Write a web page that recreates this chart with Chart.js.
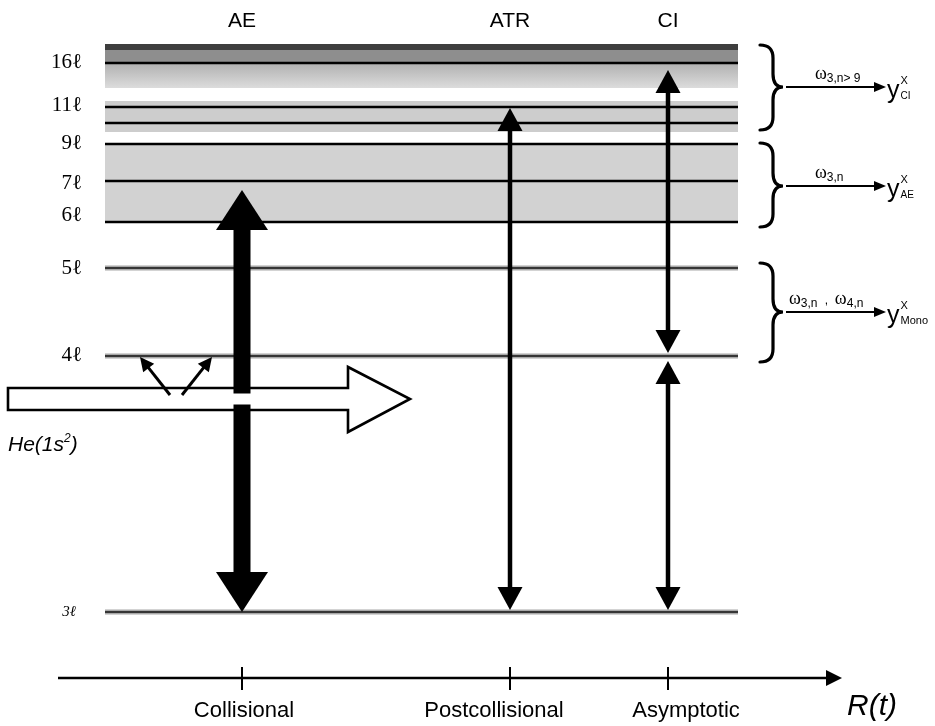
<!DOCTYPE html>
<html>
<head>
<meta charset="utf-8">
<script src="https://cdn.jsdelivr.net/npm/chart.js@4.4.1/dist/chart.umd.min.js"></script>
<style>
  html, body { margin: 0; padding: 0; background: #fff; }
  canvas { display: block; }
</style>
</head>
<body>
<canvas id="chart" width="935" height="726"></canvas>
<script>
// diagram units: x runs along R(t), y is the level axis (small = high level)
const stages = ['Collisional', 'Postcollisional', 'Asymptotic'];
const stageTags = ['AE', 'ATR', 'CI'];
const stageX = [242, 510, 668];

const levelLabels = ['3ℓ', '4ℓ', '5ℓ', '6ℓ', '7ℓ', '9ℓ', '11ℓ', '16ℓ'];
const levelLabelY = [612, 355, 268, 215, 183, 143, 105, 62];
const isolatedLevels = [612, 356, 268];          // 3ℓ, 4ℓ, 5ℓ
const groupLevels = [222, 181, 144, 123, 107, 63]; // lines inside the shaded groups
const levelSpan = [105, 738];

const bandTop = [44, 50, 63, 101, 144];
const bandBottom = [50, 63, 88, 132, 222];

// vertical transitions [tip at 3ℓ side, tip at upper side]
const aeArrow = [612, 190];
const atrArrow = [610, 108];
const ciUpper = [353, 70];
const ciLower = [610, 361];

// incoming He beam
const heBeam = [8, 410];
const heLevel = [399];
const emitTail = [170, 182];
const emitTip = [140, 212];
const emitY = [395, 357];

// exit channels on the right
const channels = ['CI', 'AE', 'Mono'];
const channelRates = [['3,n> 9'], ['3,n'], ['3,n', '4,n']];
const channelY = [87, 186, 312];
const braceTop = [45, 143, 263];
const braceBottom = [130, 227, 362];

const rAxis = [58, 842];
const rAxisLevel = [678];

const serif = "'Liberation Serif', 'DejaVu Serif', serif";
const sans = "'Liberation Sans', Arial, sans-serif";
const bandColors = ['#3e3e3e', '#8e8e8e', 'grad', '#cdcdcd', '#d2d2d2'];

const px = (c, v) => c.scales.x.getPixelForValue(v);
const py = (c, v) => c.scales.y.getPixelForValue(v);

function head(ctx, tx, ty, ang, len, half) {
  const bx = tx - Math.cos(ang) * len, by = ty - Math.sin(ang) * len;
  const nx = -Math.sin(ang) * half, ny = Math.cos(ang) * half;
  ctx.beginPath();
  ctx.moveTo(tx, ty);
  ctx.lineTo(bx + nx, by + ny);
  ctx.lineTo(bx - nx, by - ny);
  ctx.closePath();
  ctx.fill();
}

const line = (pts, color, width, order) => ({
  data: pts, borderColor: color, borderWidth: width, pointRadius: 0,
  showLine: true, fill: false, order: order, borderCapStyle: 'butt'
});

const datasets = [];

// shaded level groups
bandTop.forEach((t, i) => {
  datasets.push({
    data: [{ x: levelSpan[0], y: t }, { x: levelSpan[1], y: t }],
    showLine: true, pointRadius: 0, borderWidth: 0, borderColor: 'rgba(0,0,0,0)',
    fill: { value: bandBottom[i] }, order: 5,
    backgroundColor: (ctx) => {
      if (bandColors[i] !== 'grad') return bandColors[i];
      const c = ctx.chart;
      if (!c.chartArea) return '#c8c8c8';
      const g = c.ctx.createLinearGradient(0, py(c, t), 0, py(c, bandBottom[i]));
      g.addColorStop(0, '#b0b0b0');
      g.addColorStop(1, '#dcdcdc');
      return g;
    }
  });
});

// level lines
isolatedLevels.forEach(y => {
  datasets.push(line([{ x: levelSpan[0], y }, { x: levelSpan[1], y }], '#a8a8a8', 5, 4));
  datasets.push(line([{ x: levelSpan[0], y }, { x: levelSpan[1], y }], '#111', 1.6, 3));
});
groupLevels.forEach(y => {
  datasets.push(line([{ x: levelSpan[0], y }, { x: levelSpan[1], y }], '#000', 2.6, 3));
});

// shafts (heads are added by the plugin)
const aeHead = 40, thinHead = 23;
const gap = 5.5;
datasets.push(line([{ x: stageX[0], y: aeArrow[0] - aeHead }, { x: stageX[0], y: heLevel[0] + gap }], '#000', 17, 1));
datasets.push(line([{ x: stageX[0], y: heLevel[0] - gap }, { x: stageX[0], y: aeArrow[1] + aeHead }], '#000', 17, 1));
datasets.push(line([{ x: stageX[1], y: atrArrow[0] - thinHead }, { x: stageX[1], y: atrArrow[1] + thinHead }], '#000', 4.5, 1));
datasets.push(line([{ x: stageX[2], y: ciUpper[0] - thinHead }, { x: stageX[2], y: ciUpper[1] + thinHead }], '#000', 4.5, 1));
datasets.push(line([{ x: stageX[2], y: ciLower[0] - thinHead }, { x: stageX[2], y: ciLower[1] + thinHead }], '#000', 4.5, 1));

function runs(ctx, x, y, parts) {
  // parts: [text, font, dy]
  parts.forEach(([t, f, dy]) => {
    ctx.font = f;
    ctx.fillText(t, x, y + dy);
    x += ctx.measureText(t).width;
  });
  return x;
}

const schematic = {
  id: 'schematic',
  beforeDatasetsDraw(c) {
    const ctx = c.ctx;
    const x0 = px(c, heBeam[0]), x1 = px(c, heBeam[1]);
    const yc = py(c, heLevel[0]);
    const hx = x1 - 62;
    ctx.save();
    ctx.beginPath();
    ctx.moveTo(x0, yc - 11);
    ctx.lineTo(hx, yc - 11);
    ctx.lineTo(hx, yc - 32);
    ctx.lineTo(x1, yc);
    ctx.lineTo(hx, yc + 33);
    ctx.lineTo(hx, yc + 11);
    ctx.lineTo(x0, yc + 11);
    ctx.closePath();
    ctx.fillStyle = '#fff';
    ctx.fill();
    ctx.lineWidth = 2.6;
    ctx.lineJoin = 'miter';
    ctx.strokeStyle = '#000';
    ctx.stroke();
    ctx.restore();
  },
  afterDatasetsDraw(c) {
    const ctx = c.ctx;
    ctx.save();
    ctx.fillStyle = '#000';
    ctx.strokeStyle = '#000';
    const up = -Math.PI / 2, down = Math.PI / 2;

    // vertical arrow heads
    head(ctx, px(c, stageX[0]), py(c, aeArrow[0]), down, aeHead, 26);
    head(ctx, px(c, stageX[0]), py(c, aeArrow[1]), up, aeHead, 26);
    head(ctx, px(c, stageX[1]), py(c, atrArrow[0]), down, thinHead, 12.5);
    head(ctx, px(c, stageX[1]), py(c, atrArrow[1]), up, thinHead, 12.5);
    head(ctx, px(c, stageX[2]), py(c, ciUpper[0]), down, thinHead, 12.5);
    head(ctx, px(c, stageX[2]), py(c, ciUpper[1]), up, thinHead, 12.5);
    head(ctx, px(c, stageX[2]), py(c, ciLower[0]), down, thinHead, 12.5);
    head(ctx, px(c, stageX[2]), py(c, ciLower[1]), up, thinHead, 12.5);

    // emission arrows out of the beam
    emitTail.forEach((tx, i) => {
      const ax = px(c, tx), ay = py(c, emitY[0]);
      const bx = px(c, emitTip[i]), by = py(c, emitY[1]);
      const ang = Math.atan2(by - ay, bx - ax);
      ctx.lineWidth = 3;
      ctx.beginPath();
      ctx.moveTo(ax, ay);
      ctx.lineTo(bx - Math.cos(ang) * 10, by - Math.sin(ang) * 10);
      ctx.stroke();
      head(ctx, bx, by, ang, 14, 7);
    });

    // R(t) axis
    const ay = py(c, rAxisLevel[0]);
    ctx.lineWidth = 2.6;
    ctx.beginPath();
    ctx.moveTo(px(c, rAxis[0]), ay);
    ctx.lineTo(px(c, rAxis[1]) - 12, ay);
    ctx.stroke();
    head(ctx, px(c, rAxis[1]), ay, 0, 16, 8);
    ctx.lineWidth = 2;
    stageX.forEach(x => {
      ctx.beginPath();
      ctx.moveTo(px(c, x), ay - 11);
      ctx.lineTo(px(c, x), ay + 12);
      ctx.stroke();
    });

    // braces and channel arrows
    channels.forEach((name, i) => {
      const y1 = py(c, braceTop[i]), y2 = py(c, braceBottom[i]), ym = py(c, channelY[i]);
      const xl = 760, xm = 773, xt = 783, q = 13;
      ctx.lineWidth = 3.2;
      ctx.lineCap = 'round';
      ctx.beginPath();
      ctx.moveTo(xl, y1);
      ctx.quadraticCurveTo(xm, y1, xm, y1 + q);
      ctx.lineTo(xm, ym - q);
      ctx.quadraticCurveTo(xm, ym, xt, ym);
      ctx.quadraticCurveTo(xm, ym, xm, ym + q);
      ctx.lineTo(xm, y2 - q);
      ctx.quadraticCurveTo(xm, y2, xl, y2);
      ctx.stroke();
      ctx.lineCap = 'butt';

      ctx.lineWidth = 2;
      ctx.beginPath();
      ctx.moveTo(786, ym);
      ctx.lineTo(876, ym);
      ctx.stroke();
      head(ctx, 886, ym, 0, 12, 5);

      ctx.textBaseline = 'alphabetic';
      ctx.textAlign = 'left';
      const rates = channelRates[i];
      let x = rates.length > 1 ? 789 : 815;
      rates.forEach((r, k) => {
        if (k > 0) x = runs(ctx, x + 4, ym - 8, [[' ,  ', '12px ' + sans, 0]]);
        x = runs(ctx, x, ym - 8, [['ω', '18px ' + serif, 0], [r, '12px ' + sans, 3]]);
      });

      let yx = runs(ctx, 887, ym + 11, [['y', '25px ' + sans, 0]]);
      runs(ctx, yx + 1, ym - 3, [['X', '11px ' + sans, 0]]);
      runs(ctx, yx + 1, ym + 12, [[name, (name === 'Mono' ? '11px ' : '10px ') + sans, 0]]);
    });

    // text
    ctx.textAlign = 'center';
    ctx.textBaseline = 'middle';
    ctx.font = '21px ' + sans;
    stageTags.forEach((t, i) => ctx.fillText(t, px(c, stageX[i]), 21));
    const labelShift = [2, -16, 18];
    ctx.font = '22px ' + sans;
    stages.forEach((t, i) => ctx.fillText(t, px(c, stageX[i]) + labelShift[i], 711));
    ctx.font = 'italic 30px ' + sans;
    ctx.fillText('R(t)', 872, 707);

    ctx.textAlign = 'right';
    levelLabels.forEach((t, i) => {
      ctx.font = (i === 0 ? 'italic 15px ' : '21px ') + serif;
      ctx.fillText(t, i === 0 ? 76 : 82, py(c, levelLabelY[i]));
    });

    ctx.textAlign = 'left';
    ctx.textBaseline = 'alphabetic';
    const hx = runs(ctx, 8, 451, [['He(1s', 'italic 21px ' + sans, 0]]);
    const hx2 = runs(ctx, hx, 451, [['2', 'italic 12px ' + sans, -9]]);
    runs(ctx, hx2, 451, [[')', 'italic 21px ' + sans, 0]]);
    ctx.restore();
  }
};

new Chart(document.getElementById('chart'), {
  type: 'scatter',
  data: { datasets },
  options: {
    responsive: false,
    animation: false,
    devicePixelRatio: 1,
    layout: { padding: 0 },
    scales: {
      x: { type: 'linear', min: 0, max: 935, display: false },
      y: { type: 'linear', min: 0, max: 726, reverse: true, display: false }
    },
    plugins: { legend: { display: false }, tooltip: { enabled: false } },
    elements: { line: { tension: 0 } }
  },
  plugins: [schematic]
});
</script>
</body>
</html>
